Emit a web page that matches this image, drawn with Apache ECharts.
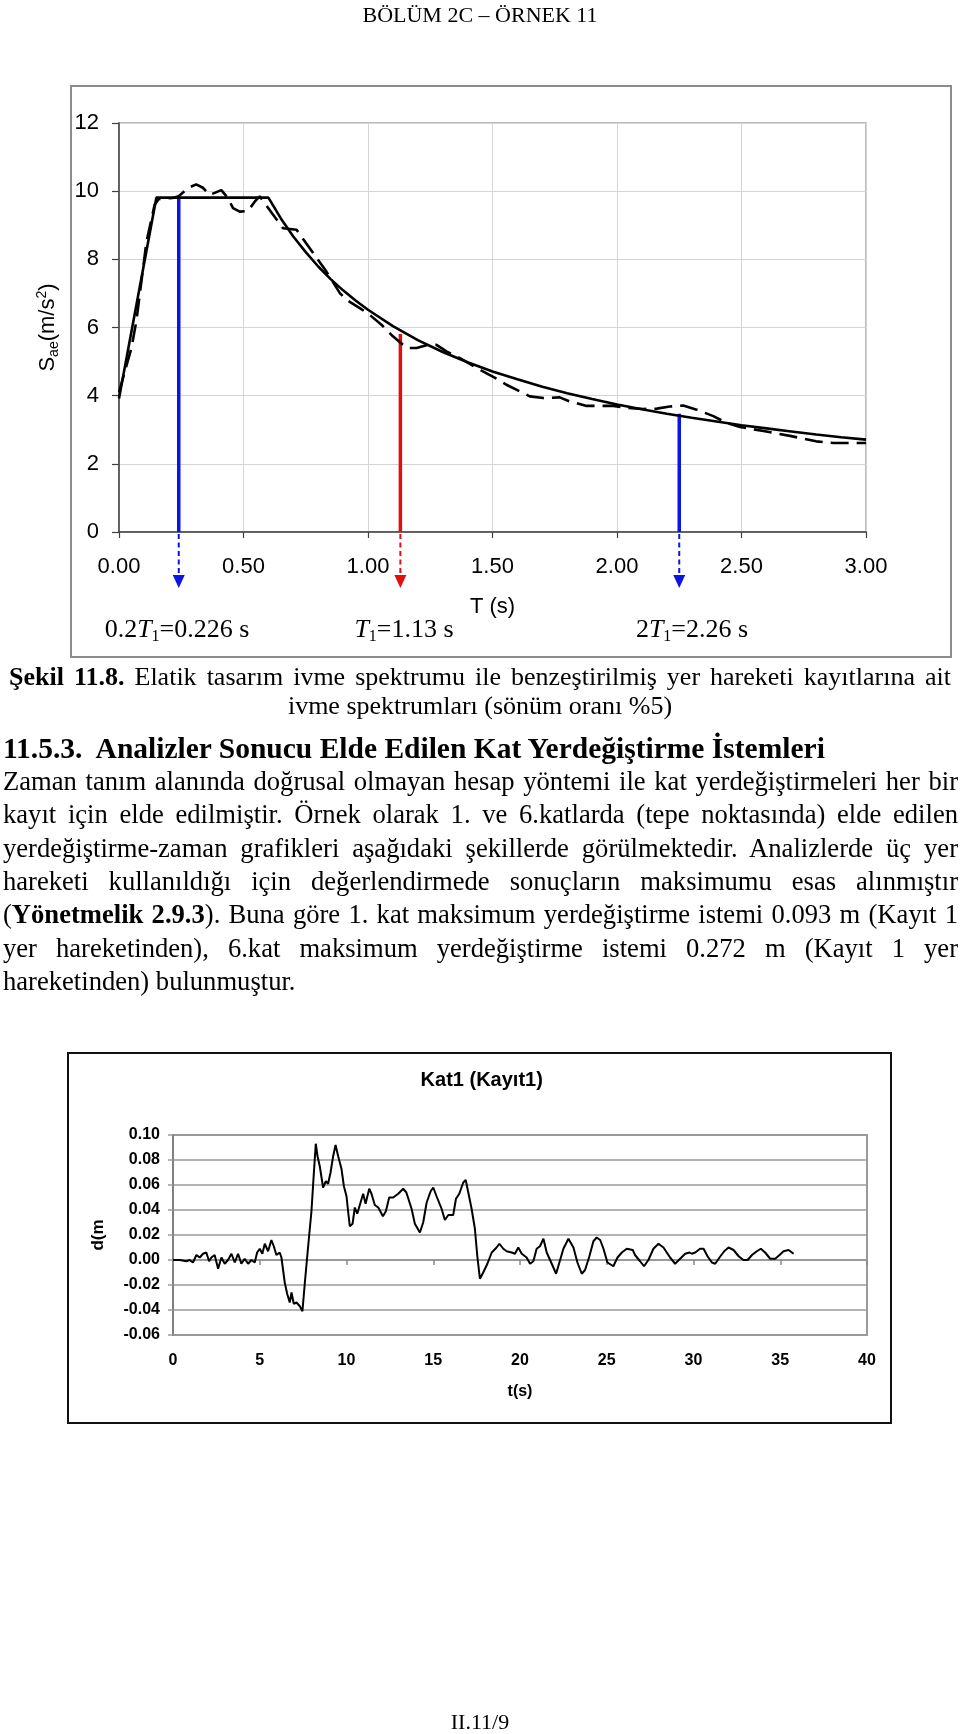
<!DOCTYPE html>
<html><head><meta charset="utf-8">
<script src="https://cdn.jsdelivr.net/npm/echarts@6/dist/echarts.min.js"></script>
<style>
html,body{margin:0;padding:0;background:#fff;}
#page{position:relative;width:960px;height:1734px;overflow:hidden;background:#fff;}
#chart{position:absolute;left:0;top:0;width:960px;height:1734px;}
.t{position:absolute;font-family:'Liberation Serif','Times New Roman',serif;color:#000;z-index:2;font-size:26px;line-height:30px;height:30px;}
.p{font-size:26.6px;}
.j{text-align:justify;text-align-last:justify;}
</style></head>
<body><div id="page"><div id="chart"></div>
<div class="t" style="left:0;width:960px;top:2px;font-size:22px;line-height:26px;text-align:center;">BÖLÜM 2C – ÖRNEK 11</div>
<div class="t j" style="left:9px;width:942px;top:662px;"><b>Şekil 11.8.</b> Elatik tasarım ivme spektrumu ile benzeştirilmiş yer hareketi kayıtlarına ait</div>
<div class="t" style="left:0;width:960px;top:691px;text-align:center;">ivme spektrumları (sönüm oranı %5)</div>
<div class="t" style="left:3px;top:733px;font-weight:bold;font-size:29.5px;">11.5.3.&nbsp; Analizler Sonucu Elde Edilen Kat Yerdeğiştirme İstemleri</div>
<div class="t p j" style="left:3px;width:955px;top:766px;">Zaman tanım alanında doğrusal olmayan hesap yöntemi ile kat yerdeğiştirmeleri her bir</div>
<div class="t p j" style="left:3px;width:955px;top:799px;">kayıt için elde edilmiştir. Örnek olarak 1. ve 6.katlarda (tepe noktasında) elde edilen</div>
<div class="t p j" style="left:3px;width:955px;top:833px;">yerdeğiştirme-zaman grafikleri aşağıdaki şekillerde görülmektedir. Analizlerde üç yer</div>
<div class="t p j" style="left:3px;width:955px;top:866px;">hareketi kullanıldığı için değerlendirmede sonuçların maksimumu esas alınmıştır</div>
<div class="t p j" style="left:3px;width:955px;top:899px;">(<b>Yönetmelik 2.9.3</b>). Buna göre 1. kat maksimum yerdeğiştirme istemi 0.093 m (Kayıt 1</div>
<div class="t p j" style="left:3px;width:955px;top:933px;">yer hareketinden), 6.kat maksimum yerdeğiştirme istemi 0.272 m (Kayıt 1 yer</div>
<div class="t p" style="left:3px;top:966px;">hareketinden) bulunmuştur.</div>
<div class="t" style="left:0;width:960px;top:1709px;font-size:22px;line-height:26px;text-align:center;">II.11/9</div>
</div>
<script>
// ---- Data: design spectrum (solid) ----
const specT  = [0, 0.15, 0.6, 0.65, 0.7, 0.75, 0.8, 0.85, 0.9, 0.95, 1.0, 1.1, 1.2, 1.3, 1.4, 1.5, 1.6, 1.7, 1.8, 1.9, 2.0, 2.1, 2.2, 2.3, 2.4, 2.5, 2.6, 2.7, 2.8, 2.9, 3.0];
const specSa = [3.92, 9.81, 9.81, 9.20, 8.67, 8.21, 7.79, 7.42, 7.09, 6.79, 6.52, 6.04, 5.63, 5.28, 4.98, 4.71, 4.48, 4.26, 4.07, 3.90, 3.74, 3.60, 3.47, 3.35, 3.24, 3.13, 3.04, 2.95, 2.86, 2.78, 2.71];
// ---- Data: simulated records mean spectrum (dashed) ----
const simT  = [0.0, 0.05, 0.07, 0.11, 0.143, 0.16, 0.215, 0.24, 0.277, 0.31, 0.337, 0.364, 0.411, 0.438, 0.458, 0.485, 0.518, 0.545, 0.565, 0.605, 0.659, 0.713, 0.78, 0.833, 0.887, 0.914, 0.967, 1.007, 1.054, 1.1, 1.155, 1.195, 1.241, 1.275, 1.315, 1.369, 1.449, 1.516, 1.556, 1.65, 1.704, 1.77, 1.81, 1.878, 1.985, 2.039, 2.105, 2.16, 2.212, 2.266, 2.32, 2.387, 2.44, 2.494, 2.6, 2.695, 2.80, 2.87, 3.0];
const simSa = [4.1, 5.4, 6.2, 8.5, 9.6, 9.77, 9.8, 9.85, 10.09, 10.2, 10.1, 9.89, 10.03, 9.79, 9.5, 9.4, 9.42, 9.69, 9.85, 9.45, 8.91, 8.87, 8.18, 7.64, 7.01, 6.81, 6.57, 6.37, 6.08, 5.74, 5.4, 5.4, 5.49, 5.49, 5.3, 5.1, 4.76, 4.5, 4.32, 3.98, 3.93, 3.95, 3.83, 3.70, 3.70, 3.64, 3.61, 3.62, 3.68, 3.71, 3.59, 3.40, 3.2, 3.08, 2.95, 2.82, 2.66, 2.61, 2.61];
// ---- Data: period markers (0.2T1, T1, 2T1) ----
const markerT   = [0.24, 1.13, 2.25];
const markerTop = [9.81, 5.81, 3.47];
const markerLabels = ['{n|0.2}{i|T}{s|1}{n|=0.226 s}', '{i|T}{s|1}{n|=1.13 s}', '{n|2}{i|T}{s|1}{n|=2.26 s}'];
// ---- Axis ticks ----
const specYTicks = {min: 0, max: 12, interval: 2};
const specXTicks = {min: 0, max: 3, interval: 0.5};
// ---- Data: Kat1 (Kayıt1) displacement time history ----
const timeT = [0, 0.4, 0.77, 0.96, 1.15, 1.35, 1.54, 1.73, 1.92, 2.08, 2.21, 2.4, 2.6, 2.79, 2.98, 3.17, 3.37, 3.56, 3.75, 3.94, 4.13, 4.33, 4.52, 4.71, 4.85, 5.0, 5.15, 5.29, 5.48, 5.67, 5.81, 5.96, 6.15, 6.25, 6.44, 6.58, 6.73, 6.83, 6.96, 7.12, 7.31, 7.46, 7.6, 7.79, 7.98, 8.12, 8.23, 8.33, 8.46, 8.65, 8.81, 8.94, 9.08, 9.23, 9.37, 9.52, 9.71, 9.85, 10.0, 10.1, 10.19, 10.35, 10.48, 10.62, 10.81, 10.96, 11.1, 11.31, 11.44, 11.63, 11.83, 12.1, 12.27, 12.46, 12.69, 12.98, 13.27, 13.45, 13.75, 13.94, 14.23, 14.42, 14.62, 14.85, 15.0, 15.19, 15.48, 15.67, 15.87, 16.15, 16.31, 16.5, 16.73, 16.87, 17.02, 17.21, 17.4, 17.54, 17.69, 17.88, 18.12, 18.37, 18.65, 18.81, 19.04, 19.23, 19.52, 19.71, 19.9, 20.1, 20.38, 20.58, 20.77, 20.96, 21.15, 21.35, 21.54, 21.83, 22.08, 22.27, 22.5, 22.79, 23.08, 23.31, 23.56, 23.75, 24.0, 24.23, 24.42, 24.62, 24.81, 25.04, 25.38, 25.62, 25.87, 26.15, 26.5, 26.63, 26.92, 27.15, 27.4, 27.69, 27.98, 28.27, 28.65, 28.94, 29.23, 29.52, 29.77, 29.9, 30.1, 30.38, 30.58, 30.81, 31.06, 31.25, 31.5, 31.77, 32.02, 32.31, 32.6, 32.88, 33.12, 33.37, 33.65, 33.88, 34.13, 34.42, 34.71, 34.96, 35.19, 35.48, 35.77];
const dispD = [0, 0, -0.001, 0, -0.002, 0.004, 0.002, 0.005, 0.006, -0.001, 0.002, 0.004, -0.007, 0.002, -0.003, 0, 0.005, -0.002, 0.005, -0.003, 0.001, -0.003, 0, -0.002, 0.006, 0.009, 0.005, 0.013, 0.007, 0.016, 0.011, 0.004, 0.006, 0.002, -0.018, -0.027, -0.034, -0.026, -0.035, -0.034, -0.037, -0.041, -0.018, 0.011, 0.039, 0.070, 0.093, 0.083, 0.075, 0.058, 0.063, 0.061, 0.070, 0.083, 0.092, 0.083, 0.073, 0.059, 0.051, 0.038, 0.027, 0.029, 0.042, 0.037, 0.046, 0.053, 0.045, 0.057, 0.053, 0.044, 0.042, 0.035, 0.039, 0.050, 0.050, 0.053, 0.057, 0.054, 0.041, 0.029, 0.022, 0.030, 0.046, 0.055, 0.058, 0.051, 0.041, 0.032, 0.036, 0.036, 0.049, 0.053, 0.062, 0.064, 0.054, 0.041, 0.025, 0.003, -0.015, -0.010, -0.003, 0.006, 0.010, 0.013, 0.009, 0.007, 0.006, 0.005, 0.010, 0.005, 0.002, -0.003, -0.001, 0.009, 0.011, 0.017, 0.006, -0.003, -0.011, -0.002, 0.009, 0.017, 0.010, -0.002, -0.011, -0.008, 0.003, 0.015, 0.018, 0.016, 0.009, -0.002, -0.005, 0.002, 0.006, 0.009, 0.008, 0.004, -0.001, -0.005, 0, 0.009, 0.013, 0.010, 0.002, -0.003, 0.001, 0.005, 0.006, 0.005, 0.006, 0.009, 0.009, 0.003, -0.002, -0.003, 0.002, 0.007, 0.010, 0.008, 0.003, 0, 0, 0.004, 0.007, 0.009, 0.006, 0.001, 0.001, 0.004, 0.007, 0.008, 0.005];
const dispYTicks = {min: -0.06, max: 0.10, interval: 0.02};
const dispXTicks = {min: 0, max: 40, interval: 5};

const chart = echarts.init(document.getElementById('chart'), null, {renderer: 'canvas'});
const SANS = 'Liberation Sans';
const SERIF = 'Liberation Serif';
const annRich = {
  n: {fontFamily: SERIF, fontSize: 26, lineHeight: 30, color: '#000'},
  i: {fontFamily: SERIF, fontSize: 26, lineHeight: 30, fontStyle: 'italic', color: '#000'},
  s: {fontFamily: SERIF, fontSize: 16, lineHeight: 16, verticalAlign: 'bottom', color: '#000'}
};
const annPos = [[177, 630], [404, 630], [692, 630]];

const option = {
  animation: false,
  textStyle: {fontFamily: SANS},
  grid: [
    {left: 119, top: 123, width: 747, height: 409, show: true, borderColor: '#a6a6a6', borderWidth: 1.5},
    {left: 173, top: 1135, width: 694, height: 200, show: true, borderColor: '#9a9a9a', borderWidth: 2}
  ],
  xAxis: [
    {gridIndex: 0, type: 'value', position: 'bottom', min: specXTicks.min, max: specXTicks.max, interval: specXTicks.interval,
     axisLine: {show: true, onZero: false, lineStyle: {color: '#404040', width: 1.5}},
     axisTick: {show: true, length: 6, lineStyle: {color: '#404040', width: 1.2}},
     axisLabel: {formatter: v => v.toFixed(2), fontSize: 22, color: '#000', margin: 24, fontFamily: SANS},
     splitLine: {show: true, lineStyle: {color: '#d4d4d4', width: 1}},
     name: 'T (s)', nameLocation: 'middle', nameGap: 64, nameTextStyle: {fontSize: 22, color: '#000', fontFamily: SANS}},
    {gridIndex: 1, type: 'value', position: 'bottom', min: dispXTicks.min, max: dispXTicks.max, interval: dispXTicks.interval,
     axisLine: {show: true, onZero: true, lineStyle: {color: '#9a9a9a', width: 2}},
     axisTick: {show: true, length: 5, lineStyle: {color: '#8a8a8a', width: 1.5}},
     axisLabel: {show: false}, splitLine: {show: false}},
    {gridIndex: 1, type: 'value', position: 'bottom', min: dispXTicks.min, max: dispXTicks.max, interval: dispXTicks.interval,
     axisLine: {show: false, onZero: false}, axisTick: {show: false},
     axisLabel: {fontSize: 16, fontWeight: 'bold', color: '#000', margin: 18, fontFamily: SANS},
     splitLine: {show: false},
     name: 't(s)', nameLocation: 'middle', nameGap: 49, nameTextStyle: {fontSize: 16, fontWeight: 'bold', color: '#000', fontFamily: SANS}}
  ],
  yAxis: [
    {gridIndex: 0, type: 'value', min: specYTicks.min, max: specYTicks.max, interval: specYTicks.interval,
     axisLine: {show: true, onZero: false, lineStyle: {color: '#404040', width: 1.5}},
     axisTick: {show: true, length: 7, lineStyle: {color: '#404040', width: 1.2}},
     axisLabel: {fontSize: 22, color: '#000', margin: 20, fontFamily: SANS},
     splitLine: {show: true, lineStyle: {color: '#d4d4d4', width: 1}},
     name: '{a|S}{b|ae}{a|(m/s}{c|2}{a|)}', nameLocation: 'middle', nameGap: 58, nameRotate: 90,
     nameTextStyle: {rich: {
       a: {fontSize: 22, lineHeight: 26, color: '#000', fontFamily: SANS},
       b: {fontSize: 14, lineHeight: 14, verticalAlign: 'bottom', color: '#000', fontFamily: SANS},
       c: {fontSize: 14, lineHeight: 14, verticalAlign: 'top', color: '#000', fontFamily: SANS}
     }}},
    {gridIndex: 1, type: 'value', min: dispYTicks.min, max: dispYTicks.max, interval: dispYTicks.interval,
     axisLine: {show: true, onZero: false, lineStyle: {color: '#808080', width: 2}},
     axisTick: {show: true, length: 5, lineStyle: {color: '#9a9a9a', width: 1.5}},
     axisLabel: {formatter: v => (Math.abs(v) < 1e-9 ? 0 : v).toFixed(2), fontSize: 16, fontWeight: 'bold', color: '#000', margin: 13, fontFamily: SANS},
     splitLine: {show: true, lineStyle: {color: '#9a9a9a', width: 1.5}},
     name: 'd(m', nameLocation: 'middle', nameGap: 66, nameRotate: 90,
     nameTextStyle: {fontSize: 17, fontWeight: 'bold', color: '#000', fontFamily: SANS}}
  ],
  graphic: [
    {type: 'rect', shape: {x: 71, y: 86, width: 880, height: 571}, style: {fill: 'none', stroke: '#8c8c8c', lineWidth: 2}, silent: true},
    {type: 'rect', shape: {x: 68, y: 1053, width: 823, height: 370}, style: {fill: 'none', stroke: '#111', lineWidth: 2}, silent: true},
    {type: 'text', x: 481.7, y: 1080, style: {text: 'Kat1 (Kayıt1)', fontFamily: SANS, fontSize: 20, fontWeight: 'bold', fill: '#000', align: 'center', verticalAlign: 'middle'}, silent: true}
  ].concat(markerLabels.map((txt, k) => ({
    type: 'text', x: annPos[k][0], y: annPos[k][1],
    style: {text: txt, rich: annRich, align: 'center', verticalAlign: 'middle', fill: '#000'}, silent: true
  }))),
  series: [
    {type: 'custom', xAxisIndex: 0, yAxisIndex: 0, clip: false, z: 2,
     data: markerT.map((t, k) => [t, markerTop[k], k]),
     renderItem: function (params, api) {
       const t = api.value(0), top = api.value(1), k = api.value(2);
       const p0 = api.coord([t, 0]);
       const p1 = api.coord([t, top]);
       const col = k === 1 ? '#e01010' : '#0a14e6';
       return {type: 'group', children: [
         {type: 'line', shape: {x1: p0[0], y1: p0[1], x2: p1[0], y2: p1[1]}, style: {stroke: col, lineWidth: 3.5}},
         {type: 'line', shape: {x1: p0[0], y1: p0[1] + 2, x2: p0[0], y2: p0[1] + 44}, style: {stroke: col, lineWidth: 2, lineDash: [5, 3.5]}},
         {type: 'polygon', shape: {points: [[p0[0] - 6, p0[1] + 43], [p0[0] + 6, p0[1] + 43], [p0[0], p0[1] + 56]]}, style: {fill: col}}
       ]};
     }},
    {type: 'line', name: 'design', xAxisIndex: 0, yAxisIndex: 0, z: 3,
     data: specT.map((t, k) => [t, specSa[k]]), showSymbol: false, symbol: 'none',
     lineStyle: {color: '#000', width: 2.6}},
    {type: 'line', name: 'records', xAxisIndex: 0, yAxisIndex: 0, z: 3,
     data: simT.map((t, k) => [t, simSa[k]]), showSymbol: false, symbol: 'none',
     lineStyle: {color: '#000', width: 2.6, type: [18, 8]}},
    {type: 'line', name: 'Kat1', xAxisIndex: 1, yAxisIndex: 1, z: 3,
     data: timeT.map((t, k) => [t, dispD[k]]), showSymbol: false, symbol: 'none',
     lineStyle: {color: '#000', width: 2}}
  ]
};
chart.setOption(option);
</script>
</body></html>
